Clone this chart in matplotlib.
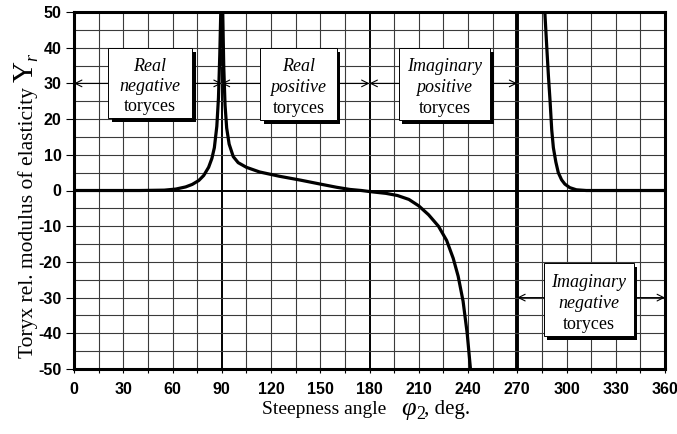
import matplotlib
matplotlib.use("Agg")
import matplotlib.pyplot as plt
from matplotlib.patches import Rectangle
from matplotlib.transforms import IdentityTransform

plt.rcParams['axes.unicode_minus'] = False

# Branch 1: real negative toryces (0..90 deg)
angle_1 = [0, 40, 55, 62, 68, 72, 76, 79, 82, 84, 85.5, 87, 88, 88.8, 89.4]
yr_1 = [0, 0, 0.1, 0.4, 1.0, 1.7, 2.8, 4.2, 6.5, 9, 12, 18, 26, 38, 50]

# Branch 2: real positive / imaginary positive toryces (90..242 deg)
angle_2 = [90.6, 91.2, 92, 93, 94.5, 97, 100, 105, 113, 125, 138, 150, 160, 168,
           175, 182, 190, 197, 204, 210, 216, 222, 227, 231, 234, 237, 239.5, 241.5]
yr_2 = [50, 35, 24, 17.5, 13, 9.5, 7.8, 6.5, 5.2, 4, 2.9, 1.8, 0.9, 0.3,
        0, -0.4, -0.8, -1.4, -2.5, -4.3, -6.8, -10, -14, -19, -24, -31, -40, -50]

# Branch 3: imaginary negative toryces (287..360 deg)
angle_3 = [286.8, 288, 289, 290, 291, 292, 293.5, 295, 297, 299, 302, 306, 312, 360]
yr_3 = [50, 40, 32, 25, 17, 12, 8, 5, 3, 1.8, 0.8, 0.2, 0, 0]

x_ticks = list(range(0, 361, 30))
y_ticks = list(range(-50, 51, 10))

# Region labels: (lines, x0, x1, y0, y1, arrow y, arrow left target, arrow right target)
regions = [
    (["Real", "negative", "toryces"], 20.7, 71.9, 20.3, 39.9, 30, 0, 90),
    (["Real", "positive", "toryces"], 113.3, 160.0, 19.7, 39.9, 30, 90, 180),
    (["Imaginary", "positive", "toryces"], 197.7, 253.5, 19.7, 39.9, 30, 180, 270),
    (["Imaginary", "negative", "toryces"], 286.0, 340.9, -40.7, -20.4, -30, 270, 360),
]

W, H = 677, 434
fig = plt.figure(figsize=(W / 100, H / 100), dpi=100)
ax = fig.add_axes([74 / W, 1 - 369 / H, (665 - 74) / W, (369 - 12) / H])
ax.set_xlim(0, 360)
ax.set_ylim(-50, 50)

# grid
for gx in range(15, 360, 15):
    if gx in (90, 180):
        ax.axvline(gx, color='black', lw=1.4, zorder=1)
    elif gx == 270:
        ax.axvline(gx, color='black', lw=2.8, zorder=1)
    else:
        ax.axvline(gx, color='#3a3a3a', lw=0.8, zorder=1)
for gy in range(-45, 50, 5):
    if gy == 0:
        ax.axhline(gy, color='black', lw=1.4, zorder=1)
    else:
        ax.axhline(gy, color='#3a3a3a', lw=0.8, zorder=1)

for a, v in ((angle_1, yr_1), (angle_2, yr_2), (angle_3, yr_3)):
    ax.plot(a, v, color='black', lw=2.3, zorder=3, solid_capstyle='butt')

# boxes
sx, sy = 2.2, 1.1
for lines, x0, x1, y0, y1, ay, lt, rt in regions:
    ax.add_patch(Rectangle((x0 + sx, y0 - sy), x1 - x0, y1 - y0, facecolor='black',
                           edgecolor='none', zorder=4))
    ax.add_patch(Rectangle((x0, y0), x1 - x0, y1 - y0, facecolor='white',
                           edgecolor='black', lw=0.7, zorder=5))
    xc = (x0 + x1) / 2
    h = (y1 - y0)
    for i, t in enumerate(lines):
        yy = y1 - h * (0.26 + 0.29 * i)
        ax.text(xc, yy, t, ha='center', va='center', fontsize=13,
                family='Liberation Serif', style=('normal' if i == 2 else 'italic'),
                zorder=6)
    arr = dict(arrowstyle='->', color='black', lw=0.8, shrinkA=0, shrinkB=0,
               mutation_scale=12)
    ax.annotate('', xy=(lt, ay), xytext=(x0, ay), arrowprops=arr, zorder=4)
    ax.annotate('', xy=(rt, ay), xytext=(x1 + sx, ay), arrowprops=arr, zorder=4)

for s in ax.spines.values():
    s.set_linewidth(2.2)
    s.set_zorder(7)

ax.set_xticks(x_ticks)
ax.set_yticks(y_ticks)
ax.set_xticks(list(range(15, 360, 30)), minor=True)
ax.tick_params(axis='x', which='both', direction='out', length=3, width=0.8,
               labelsize=11.5, pad=6.5)
ax.tick_params(axis='y', which='both', direction='out', length=6, width=0.8,
               labelsize=11.5, pad=3)
for lab in ax.get_xticklabels() + ax.get_yticklabels():
    lab.set_family('Liberation Sans')
    lab.set_fontweight('bold')

# composed axis labels (pixel placement)
renderer = fig.canvas.get_renderer()
ident = IdentityTransform()
serif = 'Liberation Serif'

# x label: pieces placed on a common baseline
x_base = H - 414
fig.text(262, x_base, "Steepness angle", transform=ident, family=serif,
         size=14, ha='left', va='baseline')
fig.text(401, x_base - 1, "\u03c6", transform=ident, family=serif, size=19,
         style='italic', ha='left', va='baseline')
fig.text(416, x_base - 5, "2", transform=ident, family=serif, size=13,
         ha='left', va='baseline')
fig.text(424, x_base, ", deg.", transform=ident, family=serif, size=15,
         ha='left', va='baseline')

# y label: rotated pieces laid out bottom to top
y_pieces = [
    ("Toryx rel. modulus of elasticity ", dict(size=15.5), 0),
    ("Y", dict(size=21), 0),
    ("r", dict(size=13, style='italic'), 4),
]
y_cur, y_base = H - 358, 33
for txt, props, dx in y_pieces:
    t = fig.text(y_base + dx, y_cur, txt, transform=ident, family=serif,
                 ha='left', va='baseline', rotation=90, rotation_mode='anchor',
                 **props)
    y_cur += t.get_window_extent(renderer).height

fig.savefig("out.png", dpi=100)
